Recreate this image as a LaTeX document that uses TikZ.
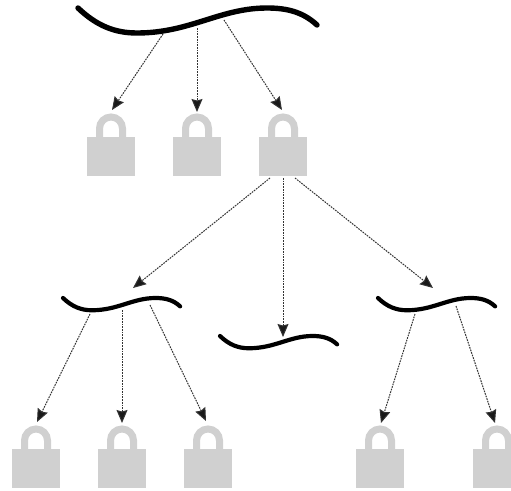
\documentclass[tikz,border=0pt]{standalone}
\usetikzlibrary{arrows.meta}
\definecolor{lockgray}{RGB}{208,208,208}
\tikzset{
  x=1pt,y=-1pt,
  lockbody/.style={fill=lockgray,draw=none,minimum width=48pt,minimum height=39pt,inner sep=0pt,outer sep=0pt},
  shackle/.style={draw=lockgray,line width=7pt},
  wavestroke/.style={draw=black,line cap=round,line join=round},
  link/.style={draw=black!80,line width=1pt,dash pattern=on 1.7pt off 1pt,-{Stealth[length=13pt,width=11pt,inset=1.5pt,fill=black!90,sep=0pt]}}
}
% name, body centre x, body centre y
\newcommand{\padlock}[3]{%
  \node[lockbody] (#1) at (#2,#3) {};
  \begin{scope}[shift={(#2,#3)}]
    \draw[shackle] (-11.5,-17) -- (-11.5,-28) .. controls (-11.5,-34.5) and (-6.3,-39.5) .. (0,-39.5)
      .. controls (6.3,-39.5) and (11.5,-34.5) .. (11.5,-28) -- (11.5,-17);
  \end{scope}}
% start x, start y, scale, line width
\newcommand{\wavecurve}[4]{%
  \begin{scope}[shift={(#1,#2)},scale=#3]
    \draw[wavestroke,line width=#4] (0,0) .. controls (19,18) and (37,25) .. (59,25)
      .. controls (112,25) and (142,0) .. (189,0)
      .. controls (209,0) and (225,4) .. (239,17);
  \end{scope}}
\begin{document}
\begin{tikzpicture}
\useasboundingbox (0,0) rectangle (511,490);
\clip (0,0) rectangle (511,490);
\fill[white] (0,0) rectangle (511,490);
\wavecurve{78}{8}{1}{5.4pt}
\wavecurve{63}{298}{.49}{4.2pt}
\wavecurve{220}{336}{.49}{4.2pt}
\wavecurve{378}{298}{.49}{4.2pt}
\padlock{la}{111}{156.5}
\padlock{lb}{197}{156.5}
\padlock{lc}{283}{156.5}
\padlock{ld}{36}{468.5}
\padlock{le}{122}{468.5}
\padlock{lf}{208}{468.5}
\padlock{lg}{380}{468.5}
\padlock{lh}{497}{468.5}
% attachment points
\coordinate (ta) at (163,34);
\coordinate (tb) at (197,28);
\coordinate (tc) at (224,20);
\coordinate (ha) at (112,110);
\coordinate (hb) at (197,112);
\coordinate (hc) at (282,110);
\coordinate (ca) at (270,178);
\coordinate (cb) at (283,178);
\coordinate (cc) at (295,178);
\coordinate (ma) at (133,288);
\coordinate (mb) at (283,337);
\coordinate (mc) at (433,288);
\coordinate (da) at (90,314);
\coordinate (db) at (122,310);
\coordinate (dc) at (150,305);
\coordinate (ea) at (37,422);
\coordinate (eb) at (122,423);
\coordinate (ec) at (206,421);
\coordinate (ra) at (415,314);
\coordinate (rb) at (456,306);
\coordinate (fa) at (381,423);
\coordinate (fb) at (495,423);
\draw[link] (ta) -- (ha);
\draw[link] (tb) -- (hb);
\draw[link] (tc) -- (hc);
\draw[link] (ca) -- (ma);
\draw[link] (cb) -- (mb);
\draw[link] (cc) -- (mc);
\draw[link] (da) -- (ea);
\draw[link] (db) -- (eb);
\draw[link] (dc) -- (ec);
\draw[link] (ra) -- (fa);
\draw[link] (rb) -- (fb);
\end{tikzpicture}
\end{document}
